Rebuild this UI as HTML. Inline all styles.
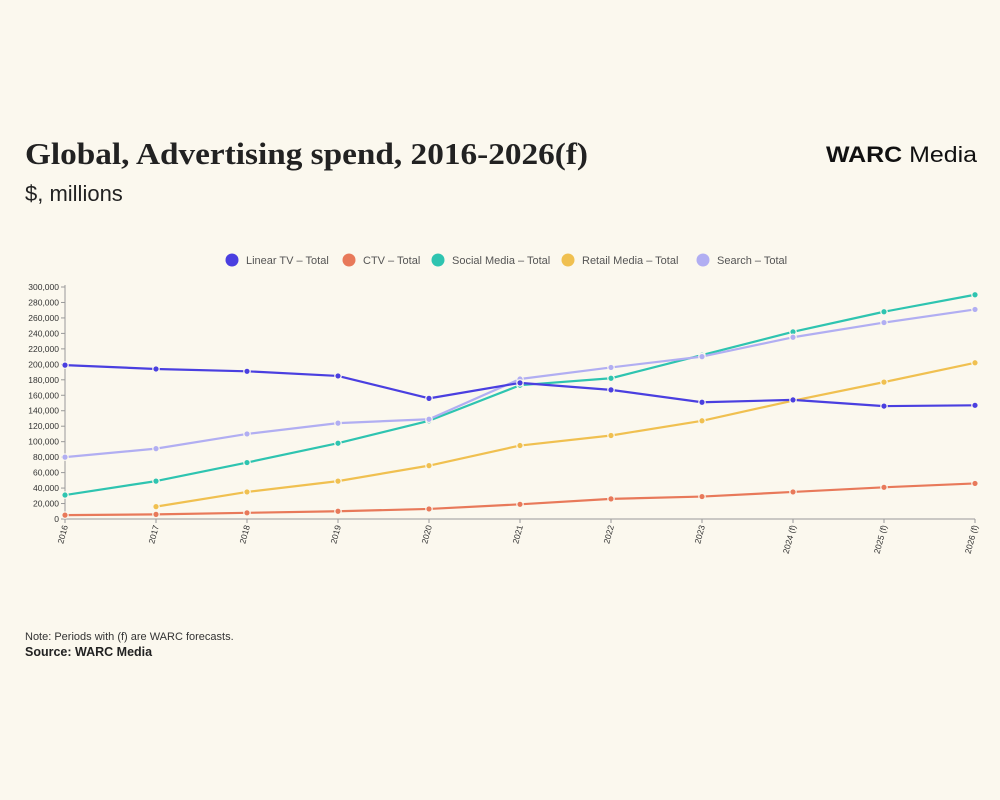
<!DOCTYPE html>
<html><head><meta charset="utf-8">
<style>
html,body{margin:0;padding:0;background:#fbf8ee;}
svg{display:block;}
</style></head>
<body>
<svg id="chart" width="1000" height="800" viewBox="0 0 1000 800" xmlns="http://www.w3.org/2000/svg">
<rect width="1000" height="800" fill="#fbf8ee"/>
<text x="25" y="164" font-family="Liberation Serif, serif" font-weight="bold" font-size="31" fill="#222" textLength="563" lengthAdjust="spacingAndGlyphs">Global, Advertising spend, 2016-2026(f)</text>
<text x="25" y="201" font-family="Liberation Sans, sans-serif" font-size="22" fill="#222">$, millions</text>
<text x="826" y="162" font-family="Liberation Sans, sans-serif" font-size="22" fill="#111" textLength="151" lengthAdjust="spacingAndGlyphs"><tspan font-weight="bold">WARC</tspan> Media</text>
<text x="25" y="640" font-family="Liberation Sans, sans-serif" font-size="11" fill="#333">Note: Periods with (f) are WARC forecasts.</text>
<text x="25" y="656" font-family="Liberation Sans, sans-serif" font-size="12.5" font-weight="bold" fill="#222">Source: WARC Media</text>
<g id="legend"></g>
<g id="axes"></g>
<g id="series"></g>
</svg>
<script>
const categories = ["2016","2017","2018","2019","2020","2021","2022","2023","2024 (f)","2025 (f)","2026 (f)"];
const linearTV = [199000,194000,191000,185000,156000,176000,167000,151000,154000,146000,147000];
const ctv = [5000,6000,8000,10000,13000,19000,26000,29000,35000,41000,46000];
const socialMedia = [31000,49000,73000,98000,127000,173000,182000,212000,242000,268000,290000];
const retailMedia = [null,16000,35000,49000,69000,95000,108000,127000,153000,177000,202000];
const search = [80000,91000,110000,124000,129000,181000,196000,210000,235000,254000,271000];
const yTicks = [0,20000,40000,60000,80000,100000,120000,140000,160000,180000,200000,220000,240000,260000,280000,300000];
const seriesNames = ["Linear TV – Total","CTV – Total","Social Media – Total","Retail Media – Total","Search – Total"];
const seriesColors = ["#4a3fe0","#e8795a","#2ec4b0","#f0c050","#b1aef2"];

const NS="http://www.w3.org/2000/svg";
const X0=65, X1=975, Y0=519, Y1=287, YMAX=300000;
const xs = i => X0 + (X1-X0)*i/(categories.length-1);
const ys = v => Y0 - (Y0-Y1)*v/YMAX;
function mk(tag, attrs, parent){const e=document.createElementNS(NS,tag);for(const k in attrs)e.setAttribute(k,attrs[k]);parent.appendChild(e);return e;}
const axes=document.getElementById('axes');
mk('line',{x1:X0,y1:Y1-2,x2:X0,y2:Y0,stroke:'#999','stroke-width':1},axes);
mk('line',{x1:X0,y1:Y0,x2:X1,y2:Y0,stroke:'#999','stroke-width':1},axes);
yTicks.forEach(v=>{
  const y=ys(v);
  const t=mk('line',{x1:X0-4,y1:y,x2:X0,y2:y,stroke:'#999'},axes);
  
  
  const l=mk('text',{x:X0-6,y:y+3,'text-anchor':'end','font-family':'Liberation Sans, sans-serif','font-size':'8.5',fill:'#333'},axes);
  l.textContent=v.toLocaleString('en-US');
  
  
});
categories.forEach((c,i)=>{
  const x=xs(i);
  const t=mk('line',{x1:x,y1:Y0,x2:x,y2:Y0+4,stroke:'#999'},axes);
  
  
  const l=mk('text',{x:x+3,y:Y0+7,'text-anchor':'end','font-family':'Liberation Sans, sans-serif','font-size':'8.5',fill:'#333',transform:`rotate(-75 ${x+3} ${Y0+7})`},axes);
  l.textContent=c;
  
  
});
const data=[linearTV,ctv,socialMedia,retailMedia,search];
const order=[1,3,2,4,0];
const sg=document.getElementById('series');
order.forEach(si=>{
  const vals=data[si], col=seriesColors[si];
  const g=mk('g',{},sg);
  
  
  let d='';
  vals.forEach((v,i)=>{if(v==null)return;d+=(d?'L':'M')+xs(i)+','+ys(v);});
  const p=mk('path',{d:d,fill:'none',stroke:col,'stroke-width':2.2,'stroke-linejoin':'round'},g);
  
  
  vals.forEach((v,i)=>{if(v==null)return;
    const c=mk('circle',{cx:xs(i),cy:ys(v),r:3.2,fill:col,stroke:'#fbf8ee','stroke-width':1.2},g);
    
    
  });
});
const lg=document.getElementById('legend');
const lx=[232,349,438,568,703];
seriesNames.forEach((n,i)=>{
  const c=mk('circle',{cx:lx[i],cy:260,r:6.5,fill:seriesColors[i]},lg);
  
  
  const t=mk('text',{x:lx[i]+14,y:264,'font-family':'Liberation Sans, sans-serif','font-size':'11',fill:'#555'},lg);
  t.textContent=n;
  
  
});
</script>
</body></html>
